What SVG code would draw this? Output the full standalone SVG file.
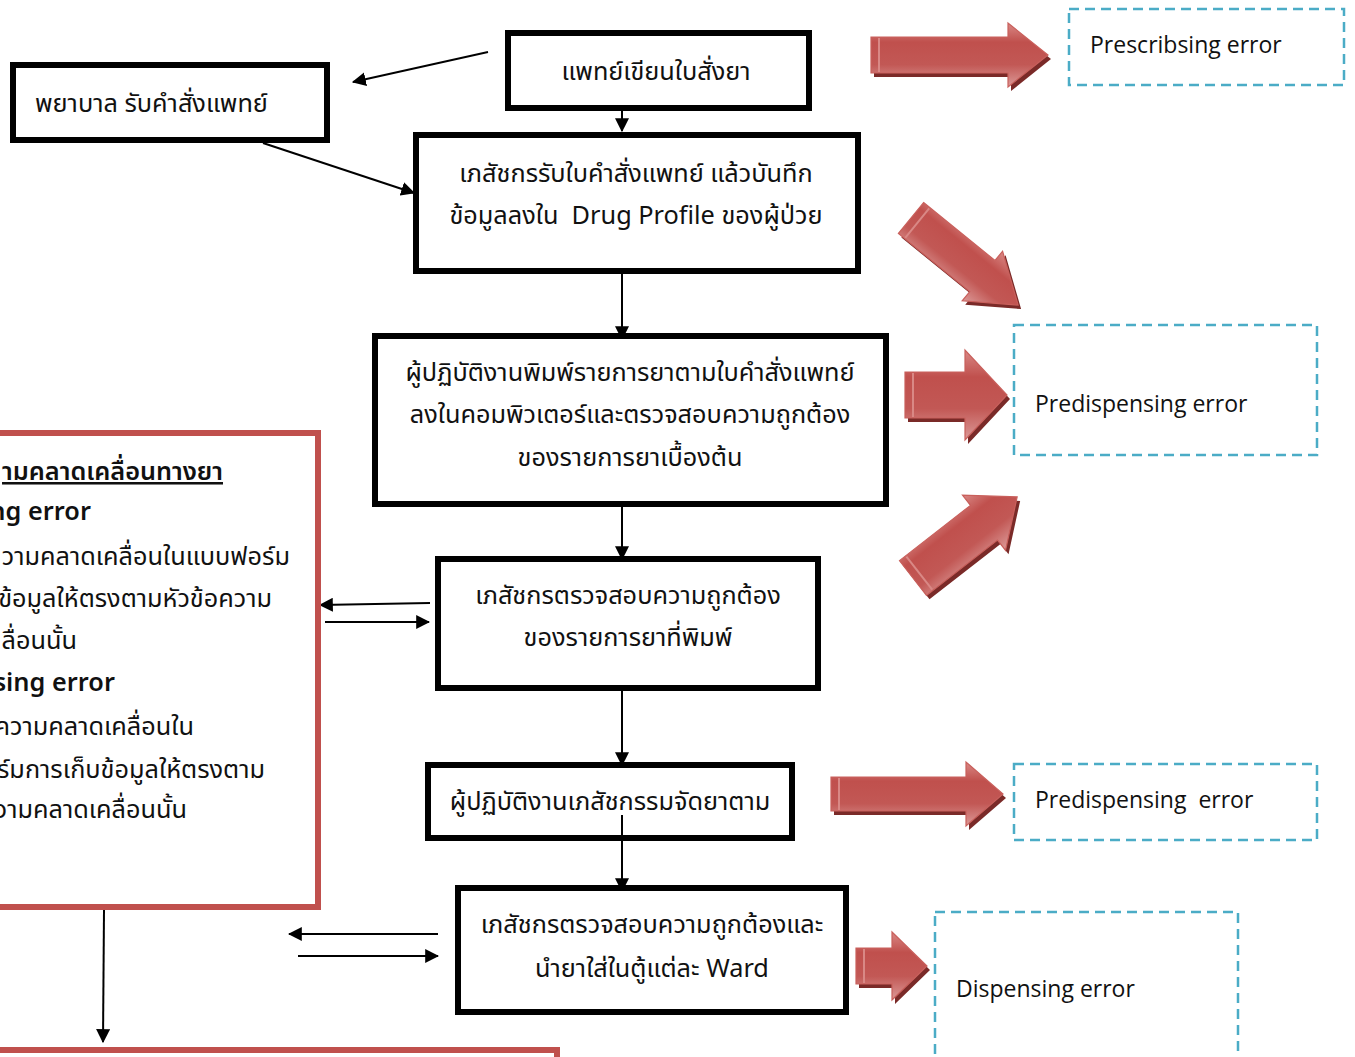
<svg xmlns="http://www.w3.org/2000/svg" width="1355" height="1057" viewBox="0 0 1355 1057">
<defs>
<style>
.box{fill:#fff;stroke:#000;stroke-width:6}
.red{fill:#fff;stroke:#c0504d;stroke-width:6}
.dash{fill:#fff;stroke:#4bacc6;stroke-width:2.5;stroke-dasharray:10 6}
.t{font-family:"Noto Sans Thai","Noto Sans","Open Sans",sans-serif;font-size:25.3px;fill:#111}
.m{text-anchor:middle}
.e{text-anchor:end}
.en{font-family:"Open Sans","Noto Sans",sans-serif;font-size:23px;fill:#111}
.b{font-weight:600}
.c{stroke:#000;stroke-width:2;fill:none;marker-end:url(#ah)}
.sh{fill:#7a2a28}
.ar{fill:url(#g);stroke:#c9605c;stroke-width:1.2}
</style>
<marker id="ah" viewBox="0 0 12 12" refX="11" refY="6" markerWidth="7" markerHeight="7" orient="auto" markerUnits="strokeWidth">
<path d="M0,0 L12,6 L0,12 Z" fill="#000"/>
</marker>
<linearGradient id="g" x1="0" y1="0" x2="0" y2="1">
<stop offset="0" stop-color="#d98885"/>
<stop offset="0.3" stop-color="#c0504d"/>
<stop offset="0.65" stop-color="#c25855"/>
<stop offset="1" stop-color="#dc9a98"/>
</linearGradient>
</defs>
<rect width="1355" height="1057" fill="#fff"/>

<g id="connectors">
<path class="c" d="M488,52 L353,82"/>
<path class="c" d="M622,111 L622,131"/>
<path class="c" d="M263,143 L414,193"/>
<path class="c" d="M622,262 L622,339"/>
<path class="c" d="M622,507 L622,559"/>
<path class="c" d="M430,603 L320,605"/>
<path class="c" d="M325,622 L429,622"/>
<path class="c" d="M622,691 L622,765"/>
<path class="c" d="M622,815 L622,891"/>
<path class="c" d="M438,934 L289,934"/>
<path class="c" d="M298,956 L438,956"/>
<path class="c" d="M104,910 L103,1042"/>
</g>

<g id="n-nurse">
<rect class="box" x="13" y="65" width="314" height="75"/>
<text class="t" x="35" y="112">พยาบาล รับคำสั่งแพทย์</text>
</g>
<g id="n-doctor">
<rect class="box" x="508" y="33" width="301" height="75"/>
<text class="t m" x="656" y="80">แพทย์เขียนใบสั่งยา</text>
</g>
<g id="n-pharm1">
<rect class="box" x="416" y="135" width="442" height="136"/>
<text class="t m" x="636" y="182">เภสัชกรรับใบคำสั่งแพทย์ แล้วบันทึก</text>
<text class="t m" x="636" y="224" xml:space="preserve">ข้อมูลลงใน  Drug Profile ของผู้ป่วย</text>
</g>
<g id="n-type">
<rect class="box" x="375" y="336" width="511" height="168"/>
<text class="t m" x="630" y="381">ผู้ปฏิบัติงานพิมพ์รายการยาตามใบคำสั่งแพทย์</text>
<text class="t m" x="630" y="423">ลงในคอมพิวเตอร์และตรวจสอบความถูกต้อง</text>
<text class="t m" x="630" y="466">ของรายการยาเบื้องต้น</text>
</g>
<g id="n-check">
<rect class="box" x="438" y="559" width="380" height="129"/>
<text class="t m" x="628" y="604">เภสัชกรตรวจสอบความถูกต้อง</text>
<text class="t m" x="628" y="646">ของรายการยาที่พิมพ์</text>
</g>
<g id="n-dispense">
<rect class="box" x="428" y="765" width="364" height="73"/>
<text class="t m" x="610" y="810">ผู้ปฏิบัติงานเภสัชกรรมจัดยาตาม</text>
</g>
<g id="n-ward">
<rect class="box" x="458" y="888" width="388" height="124"/>
<text class="t m" x="652" y="933">เภสัชกรตรวจสอบความถูกต้องและ</text>
<text class="t m" x="652" y="977">นำยาใส่ในตู้แต่ละ Ward</text>
</g>
<path d="M622,815 L622,888" stroke="#000" stroke-width="2"/>

<g id="n-legend">
<rect class="red" x="-10" y="433" width="328" height="474"/>
<text class="t e b" x="223" y="480" text-decoration="underline">ามคลาดเคลื่อนทางยา</text>
<text class="t e b" x="91" y="520">ng error</text>
<text class="t e" x="290" y="565">วามคลาดเคลื่อนในแบบฟอร์ม</text>
<text class="t e" x="272" y="607">ข้อมูลให้ตรงตามหัวข้อความ</text>
<text class="t e" x="77" y="649">ลื่อนนั้น</text>
<text class="t e b" x="115" y="691">nsing error</text>
<text class="t e" x="194" y="735">ความคลาดเคลื่อนใน</text>
<text class="t e" x="265" y="778">ร์มการเก็บข้อมูลให้ตรงตาม</text>
<text class="t e" x="187" y="818">วามคลาดเคลื่อนนั้น</text>
</g>
<g id="n-bottom">
<rect class="red" x="-10" y="1050" width="567" height="60"/>
</g>

<g id="e-prescribing">
<rect class="dash" x="1069" y="9" width="275" height="76"/>
<text class="en" x="1090" y="53">Prescribsing error</text>
</g>
<g id="e-predisp1">
<rect class="dash" x="1014" y="325" width="303" height="130"/>
<text class="en" x="1035" y="412">Predispensing error</text>
</g>
<g id="e-predisp2">
<rect class="dash" x="1014" y="764" width="303" height="76"/>
<text class="en" x="1035" y="808" xml:space="preserve">Predispensing  error</text>
</g>
<g id="e-dispensing">
<rect class="dash" x="935" y="912" width="303" height="160"/>
<text class="en" x="956" y="997">Dispensing error</text>
</g>

<g id="arrows">
<g transform="translate(874,59)"><polygon class="sh" points="0,-18 137,-18 137,-32 177,0 137,32 137,18 0,18"/></g>
<g transform="translate(871,55)"><polygon class="ar" points="0,-18 137,-18 137,-32 177,0 137,32 137,18 0,18"/><line x1="8" y1="-17" x2="8" y2="17" stroke="#d98885" stroke-width="2"/></g>

<g transform="translate(914,222) rotate(39.1)"><polygon class="sh" points="0,-20 92,-20 92,-32 138,0 92,32 92,20 0,20"/></g>
<g transform="translate(911,218) rotate(39.1)"><polygon class="ar" points="0,-20 92,-20 92,-32 138,0 92,32 92,20 0,20"/><line x1="8" y1="-19" x2="8" y2="19" stroke="#d98885" stroke-width="2"/></g>

<g transform="translate(908,399)"><polygon class="sh" points="0,-23 60,-23 60,-45 102,0 60,45 60,23 0,23"/></g>
<g transform="translate(905,395)"><polygon class="ar" points="0,-23 60,-23 60,-45 102,0 60,45 60,23 0,23"/><line x1="8" y1="-22" x2="8" y2="22" stroke="#d98885" stroke-width="2"/></g>

<g transform="translate(916,582) rotate(-37.9)"><polygon class="sh" points="0,-22 90,-22 90,-35 132,0 90,35 90,22 0,22"/></g>
<g transform="translate(913,578) rotate(-37.9)"><polygon class="ar" points="0,-22 90,-22 90,-35 132,0 90,35 90,22 0,22"/><line x1="8" y1="-21" x2="8" y2="21" stroke="#d98885" stroke-width="2"/></g>

<g transform="translate(834,798)"><polygon class="sh" points="0,-17 135,-17 135,-32 172,0 135,32 135,17 0,17"/></g>
<g transform="translate(831,794)"><polygon class="ar" points="0,-17 135,-17 135,-32 172,0 135,32 135,17 0,17"/><line x1="8" y1="-16" x2="8" y2="16" stroke="#d98885" stroke-width="2"/></g>

<g transform="translate(859,970)"><polygon class="sh" points="0,-18 36,-18 36,-34 71,0 36,34 36,18 0,18"/></g>
<g transform="translate(856,966)"><polygon class="ar" points="0,-18 36,-18 36,-34 71,0 36,34 36,18 0,18"/><line x1="8" y1="-17" x2="8" y2="17" stroke="#d98885" stroke-width="2"/></g>
</g>
</svg>
